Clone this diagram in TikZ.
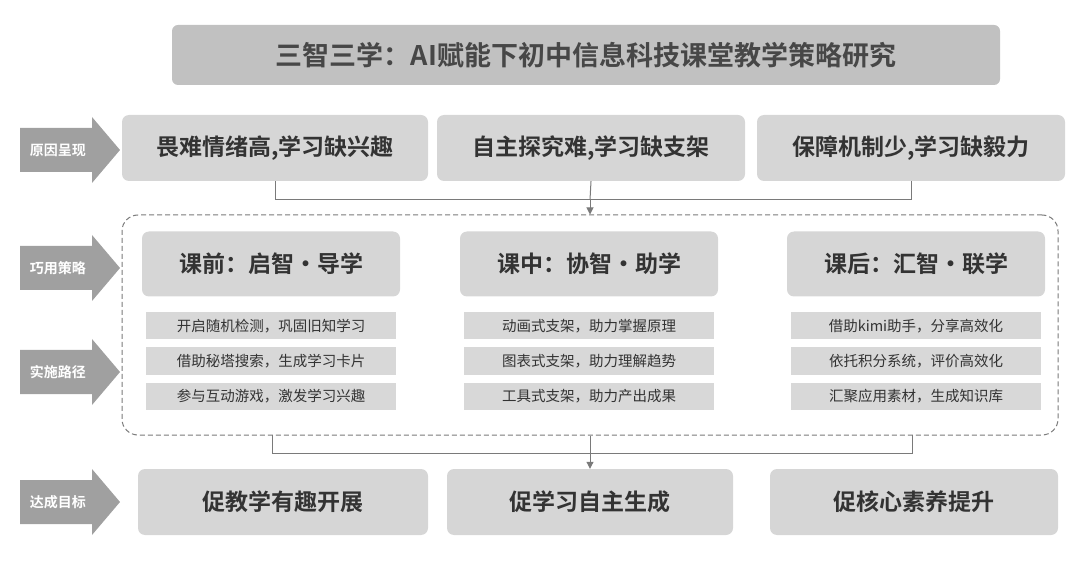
\documentclass[tikz,border=0pt]{standalone}
\usepackage{fontspec}
\setmainfont{Noto Sans CJK SC}
\newfontfamily\cjkb{Noto Sans CJK SC Bold}
\usetikzlibrary{arrows.meta}
\definecolor{boxg}{HTML}{D6D6D6}
\definecolor{smallg}{HTML}{D8D8D8}
\definecolor{txt}{HTML}{333333}
\definecolor{arrg}{HTML}{A0A0A0}
\definecolor{lineg}{HTML}{7A7A7A}
\begin{document}
\begin{tikzpicture}[x=1pt,y=-1pt,
  big/.style={fill=boxg,rounded corners=7pt,draw=none,text=txt,font=\cjkb\fontsize{23}{26}\selectfont,minimum height=66pt,inner sep=0pt},
  small/.style={fill=smallg,draw=none,text=txt,font=\fontsize{14.5}{16}\selectfont,minimum width=250pt,minimum height=27pt,inner sep=0pt},
  sidetxt/.style={text=white,font=\cjkb\fontsize{14}{16}\selectfont,inner sep=0pt},
  conn/.style={draw=lineg,line width=1pt},
  tip/.style={-{Triangle[length=7pt,width=7pt]}}]
\useasboundingbox (0,0) rectangle (1080,564);
\node[fill=boxg!90!black,rounded corners=6pt,minimum width=828pt,minimum height=60pt,text=txt!90,font=\cjkb\fontsize{27}{30}\selectfont] (title) at (586,55) {三智三学：AI赋能下初中信息科技课堂教学策略研究};
% side arrows
\foreach \n/\y/\t in {s1/150/原因呈现,s2/268/巧用策略,s3/372/实施路径,s4/502/达成目标}{
  \fill[arrg] (20,\y-22) -- (92,\y-22) -- (92,\y-33) -- (120,\y) -- (92,\y+33) -- (92,\y+22) -- (20,\y+22) -- cycle;
  \node[sidetxt] (\n) at (58,\y) {\t};
}
% row1
\node[big,minimum width=306pt] (r1) at (275,148) {畏难情绪高,学习缺兴趣};
\node[big,minimum width=308pt] (r2) at (591,148) {自主探究难,学习缺支架};
\node[big,minimum width=308pt] (r3) at (911,148) {保障机制少,学习缺毅力};
% dashed
\node[draw=lineg,dash pattern=on 5pt off 3pt,line width=1pt,rounded corners=16pt,minimum width=936pt,minimum height=220pt] (dash) at (590,325) {};
\coordinate (j1) at (590,200);
\draw[conn] (r1.south) -- (r1.south|-j1) -- (r3.south|-j1) -- (r3.south);
\draw[conn] (r2.south) -- (j1);
\draw[conn,tip] (j1) -- (dash.north);
% strategy
\node[big,minimum width=258pt,minimum height=65pt] (t1) at (271,264) {课前：启智•导学};
\node[big,minimum width=258pt,minimum height=65pt] (t2) at (589,264) {课中：协智•助学};
\node[big,minimum width=258pt,minimum height=65pt] (t3) at (916,264) {课后：汇智•联学};
\foreach \c/\x/\a/\b/\d in {a/271/开启随机检测，巩固旧知学习/借助秘塔搜索，生成学习卡片/参与互动游戏，激发学习兴趣,
  b/589/动画式支架，助力掌握原理/图表式支架，助力理解趋势/工具式支架，助力产出成果,
  c/916/借助kimi助手，分享高效化/依托积分系统，评价高效化/汇聚应用素材，生成知识库}{
  \node[small] (\c1) at (\x,326) {\a};
  \node[small] (\c2) at (\x,361) {\b};
  \node[small] (\c3) at (\x,396) {\d};
}
% bottom
\node[big,minimum width=290pt,minimum height=66pt] (g1) at (283,502) {促教学有趣开展};
\node[big,minimum width=286pt,minimum height=66pt] (g2) at (590,502) {促学习自主生成};
\node[big,minimum width=288pt,minimum height=66pt] (g3) at (914,502) {促核心素养提升};
\coordinate (j2) at (590,453);
\coordinate (l2) at (272,435);
\coordinate (r2c) at (912,435);
\draw[conn] (l2) -- (l2|-j2) -- (r2c|-j2) -- (r2c);
\draw[conn] (dash.south) -- (j2);
\draw[conn,tip] (j2) -- (g2.north);
\end{tikzpicture}
\end{document}
